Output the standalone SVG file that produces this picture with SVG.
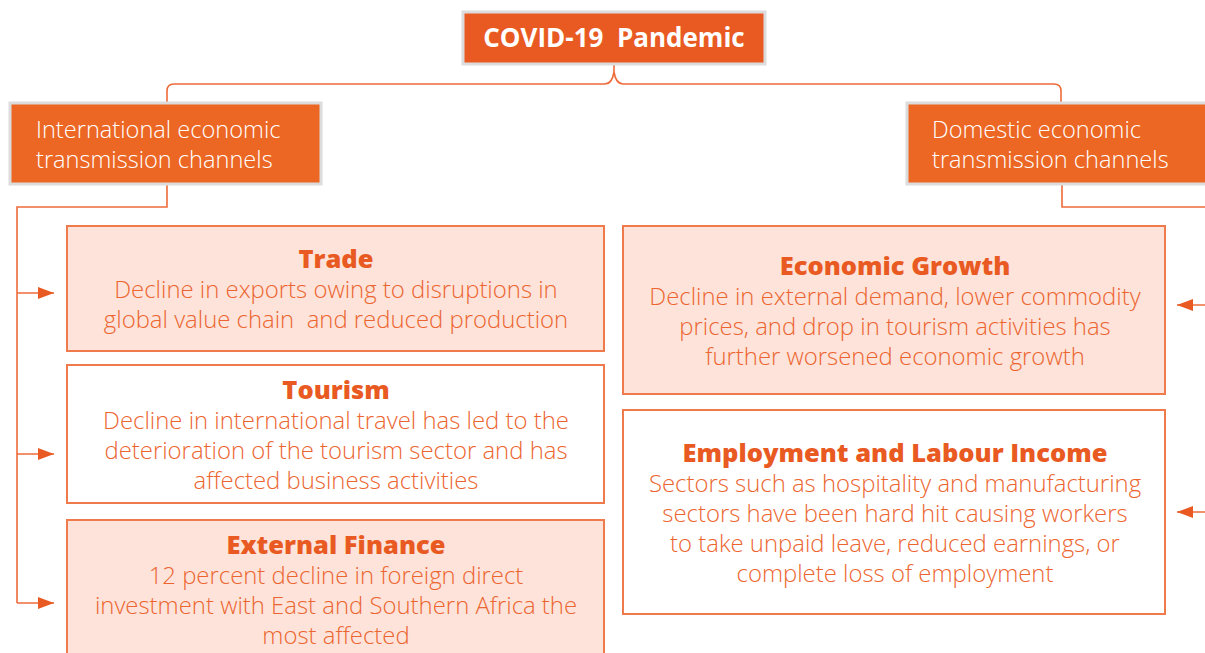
<svg xmlns="http://www.w3.org/2000/svg" width="1205" height="653" viewBox="0 0 1205 653">
<defs>
<style>
.hdr{fill:#EC6624;stroke:#DCDCDC;stroke-width:3}
.top{fill:#E95A23;stroke:#DCDCDC;stroke-width:3}
.peach{fill:#FDE3D9;stroke:#EF7A4C;stroke-width:2}
.plain{fill:#FFFFFF;stroke:#EF7A4C;stroke-width:2}
.conn{fill:none;stroke:#EE6B3A;stroke-width:1.6}
text{white-space:pre}
.ttl{font-family:"Open Sans","Liberation Sans",sans-serif;font-weight:800;font-size:25.5px;fill:#E95A23;text-anchor:middle}
.body{font-family:"Open Sans","Liberation Sans",sans-serif;font-weight:300;font-size:23.9px;fill:#EC6530;text-anchor:middle}
.hdrt{font-family:"Open Sans","Liberation Sans",sans-serif;font-weight:300;font-size:23.6px;fill:#FFFFFF}
.topt{font-family:"Open Sans","Liberation Sans",sans-serif;font-weight:700;font-size:26px;fill:#FFFFFF;text-anchor:middle}
</style>
<marker id="ah" viewBox="0 0 16 12" refX="16" refY="6" markerWidth="16" markerHeight="12" markerUnits="userSpaceOnUse" orient="auto">
<path d="M0,0 L16,6 L0,12 Z" fill="#E95A23"/>
</marker>
</defs>

<g id="connectors">
<path class="conn" d="M167,103 V91 Q167,84 174,84 H605 Q612,84 614,72 V65 M614,72 Q616,84 623,84 H1054 Q1061,84 1061,91 V103"/>
<path class="conn" d="M167,185 V207 H17 V603"/>
<path class="conn" d="M17,293 H54" marker-end="url(#ah)"/>
<path class="conn" d="M17,454 H54" marker-end="url(#ah)"/>
<path class="conn" d="M17,603 H54" marker-end="url(#ah)"/>
<path class="conn" d="M1062,185 V207 H1210"/>
<path class="conn" d="M1210,305 H1177" marker-end="url(#ah)"/>
<path class="conn" d="M1210,512 H1177" marker-end="url(#ah)"/>
</g>

<g id="covid">
<rect class="top" x="463" y="12" width="302" height="52"/>
<text class="topt" x="614" y="47" xml:space="preserve">COVID-19  Pandemic</text>
</g>

<g id="international">
<rect class="hdr" x="10" y="103" width="311" height="81"/>
<text class="hdrt" x="36" y="138">International economic</text>
<text class="hdrt" x="36" y="168">transmission channels</text>
</g>

<g id="domestic">
<rect class="hdr" x="907" y="103" width="320" height="81"/>
<text class="hdrt" x="932" y="138">Domestic economic</text>
<text class="hdrt" x="932" y="168">transmission channels</text>
</g>

<g id="trade">
<rect class="peach" x="67" y="226" width="537" height="125"/>
<text class="ttl" x="336" y="268">Trade</text>
<text class="body" x="336" y="298">Decline in exports owing to disruptions in</text>
<text class="body" x="336" y="328" xml:space="preserve">global value chain  and reduced production</text>
</g>

<g id="tourism">
<rect class="plain" x="67" y="365" width="537" height="138"/>
<text class="ttl" x="336" y="399">Tourism</text>
<text class="body" x="336" y="429">Decline in international travel has led to the</text>
<text class="body" x="336" y="459">deterioration of the tourism sector and has</text>
<text class="body" x="336" y="489">affected business activities</text>
</g>

<g id="finance">
<rect class="peach" x="67" y="520" width="537" height="150"/>
<text class="ttl" x="336" y="554">External Finance</text>
<text class="body" x="336" y="584">12 percent decline in foreign direct</text>
<text class="body" x="336" y="614">investment with East and Southern Africa the</text>
<text class="body" x="336" y="644">most affected</text>
</g>

<g id="growth">
<rect class="peach" x="623" y="226" width="542" height="168"/>
<text class="ttl" x="895" y="275">Economic Growth</text>
<text class="body" x="895" y="305">Decline in external demand, lower commodity</text>
<text class="body" x="895" y="335">prices, and drop in tourism activities has</text>
<text class="body" x="895" y="365">further worsened economic growth</text>
</g>

<g id="employment">
<rect class="plain" x="623" y="410" width="542" height="204"/>
<text class="ttl" x="895" y="462">Employment and Labour Income</text>
<text class="body" x="895" y="492">Sectors such as hospitality and manufacturing</text>
<text class="body" x="895" y="522">sectors have been hard hit causing workers</text>
<text class="body" x="895" y="552">to take unpaid leave, reduced earnings, or</text>
<text class="body" x="895" y="582">complete loss of employment</text>
</g>
</svg>
